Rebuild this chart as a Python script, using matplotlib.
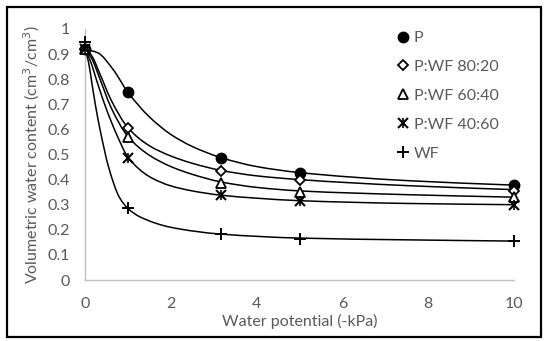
import numpy as np
import matplotlib
matplotlib.use('Agg')
import matplotlib.pyplot as plt
from matplotlib.path import Path
from matplotlib.patches import PathPatch, Rectangle
from matplotlib.legend_handler import HandlerTuple
from matplotlib.ticker import FuncFormatter

plt.rcParams['font.family'] = ['Lato', 'DejaVu Sans']

# measured points
x_pts = [0, 1, 3.16, 5, 10]
p_pts = [0.92, 0.75, 0.487, 0.427, 0.38]
wf80_pts = [0.92, 0.607, 0.434, 0.398, 0.356]
wf60_pts = [0.92, 0.570, 0.386, 0.352, 0.330]
wf40_pts = [0.92, 0.487, 0.337, 0.313, 0.300]
wf_pts = [0.947, 0.286, 0.182, 0.164, 0.155]

# fitted curves
p_cx = [0, 0.3, 0.65, 1, 1.5, 2, 2.5, 3.16, 4, 5, 7.5, 10]
p_cy = [0.92, 0.905, 0.84, 0.748, 0.65, 0.58, 0.532, 0.488, 0.452, 0.428, 0.396, 0.378]
wf80_cx = [0, 0.15, 0.35, 0.6, 1, 1.5, 2, 2.5, 3.16, 4, 5, 7.5, 10]
wf80_cy = [0.92, 0.895, 0.82, 0.72, 0.607, 0.535, 0.494, 0.465, 0.437, 0.415, 0.40, 0.376, 0.36]
wf60_cx = [0, 0.15, 0.35, 0.6, 1, 1.5, 2, 2.5, 3.16, 4, 5, 7.5, 10]
wf60_cy = [0.92, 0.885, 0.80, 0.69, 0.572, 0.497, 0.452, 0.421, 0.391, 0.369, 0.355, 0.34, 0.33]
wf40_cx = [0, 0.12, 0.3, 0.5, 0.75, 1, 1.5, 2, 2.5, 3.16, 4, 5, 7.5, 10]
wf40_cy = [0.92, 0.875, 0.78, 0.68, 0.575, 0.49, 0.412, 0.375, 0.355, 0.338, 0.326, 0.316, 0.305, 0.30]
wf_cx = [0, 0.08, 0.16, 0.25, 0.35, 0.55, 0.8, 1, 1.3, 2, 3.16, 5, 7.5, 10]
wf_cy = [0.92, 0.87, 0.785, 0.69, 0.6, 0.45, 0.33, 0.285, 0.25, 0.21, 0.183, 0.167, 0.16, 0.155]

labels = ['P', 'P:WF 80:20', 'P:WF 60:40', 'P:WF 40:60', 'WF']
grey = '#595959'


def smooth_path(xs, ys):
    # monotone cubic (pchip-like) drawn as bezier segments
    x = np.asarray(xs, float)
    y = np.asarray(ys, float)
    h = np.diff(x)
    d = np.diff(y) / h
    m = np.zeros_like(x)
    for i in range(1, len(x) - 1):
        if d[i - 1] * d[i] > 0:
            w1 = 2 * h[i] + h[i - 1]
            w2 = h[i] + 2 * h[i - 1]
            m[i] = (w1 + w2) / (w1 / d[i - 1] + w2 / d[i])
    m[0] = d[0]
    m[-1] = d[-1]
    verts = [(x[0], y[0])]
    codes = [Path.MOVETO]
    for i in range(len(x) - 1):
        verts += [(x[i] + h[i] / 3, y[i] + m[i] * h[i] / 3),
                  (x[i + 1] - h[i] / 3, y[i + 1] - m[i + 1] * h[i] / 3),
                  (x[i + 1], y[i + 1])]
        codes += [Path.CURVE4] * 3
    return Path(verts, codes)


fig = plt.figure(figsize=(5.5, 3.41), dpi=100)
ax = fig.add_axes([85 / 550, 1 - 280 / 341, 429 / 550, 251 / 341])

for cx, cy in [(p_cx, p_cy), (wf80_cx, wf80_cy), (wf60_cx, wf60_cy),
               (wf40_cx, wf40_cy), (wf_cx, wf_cy)]:
    ax.add_patch(PathPatch(smooth_path(cx, cy), fill=False, edgecolor='black',
                           lw=1.1, zorder=2, clip_on=False))

kw = dict(linestyle='none', clip_on=False, zorder=3)
h1, = ax.plot(x_pts, p_pts, marker='o', ms=7.5, mfc='black', mec='black', **kw)
h2, = ax.plot(x_pts, wf80_pts, marker='D', ms=5, mfc='white', mec='black', mew=1.3, **kw)
h3, = ax.plot(x_pts, wf60_pts, marker='^', ms=6.5, mfc='white', mec='black', mew=1.3, **kw)
h4a, = ax.plot(x_pts, wf40_pts, marker='x', ms=6.5, mec='black', mew=1.5, **kw)
h4b, = ax.plot(x_pts, wf40_pts, marker='|', ms=7, mec='black', mew=1.2, **kw)
h5, = ax.plot(x_pts, wf_pts, marker='+', ms=8, mec='black', mew=1.4, **kw)

ax.set_xlim(0, 10)
ax.set_ylim(0, 1)
ax.set_xticks(np.arange(0, 11, 2))
ax.set_yticks(np.arange(0, 1.01, 0.1))
ax.yaxis.set_major_formatter(FuncFormatter(lambda v, p: '%g' % round(v, 1)))
for s in ['top', 'right']:
    ax.spines[s].set_visible(False)
for s in ['left', 'bottom']:
    ax.spines[s].set_color('#BFBFBF')
    ax.spines[s].set_linewidth(1.0)
ax.tick_params(axis='both', length=0, labelsize=11.5, labelcolor=grey)
ax.tick_params(axis='y', pad=11)
ax.tick_params(axis='x', pad=12)
ax.set_xlabel('Water potential (-kPa)', fontsize=11.5, color=grey, labelpad=2)
ax.set_ylabel('Volumetric water content (cm$^3$/cm$^3$)', fontsize=11.5, color=grey, labelpad=4)

ax.legend([h1, h2, h3, (h4a, h4b), h5], labels,
          handler_map={tuple: HandlerTuple(ndivide=1, pad=0)},
          loc='upper left', bbox_to_anchor=(389 / 550, 1 - 23 / 341),
          bbox_transform=fig.transFigure, frameon=False, fontsize=11.5,
          labelcolor=grey, handlelength=0.8, handletextpad=0.25, labelspacing=0.92,
          borderpad=0)

fig.patches.append(Rectangle((7 / 550, 4 / 341), 534 / 550, 330 / 341, transform=fig.transFigure,
                             fill=False, edgecolor='black', lw=1.6))

fig.savefig('out.png', dpi=100)
